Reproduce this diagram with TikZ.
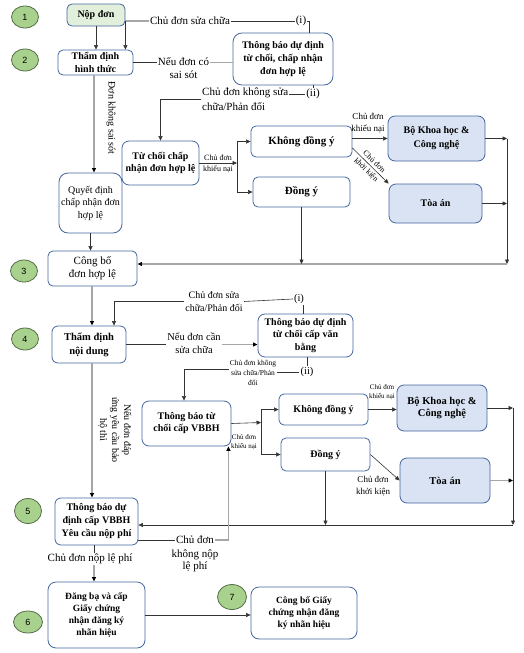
\documentclass[tikz,border=0pt]{standalone}
\usepackage{fontspec}
\setmainfont{Liberation Serif}
\newfontfamily\numfont{Liberation Sans}
\usetikzlibrary{arrows.meta,shapes.geometric}
\definecolor{boxline}{RGB}{68,102,160}
\definecolor{nopfill}{RGB}{226,239,218}
\definecolor{bluefill}{RGB}{218,227,243}
\definecolor{numfill}{RGB}{169,209,142}
\definecolor{numline}{RGB}{84,110,70}
\newcommand{\fs}[2]{\fontsize{#1}{#2}\selectfont}

\begin{document}
\begin{tikzpicture}[x=1pt,y=-1pt,
  box/.style={draw=boxline,line width=0.8pt,rounded corners=5pt,align=center,inner sep=1pt,fill=white},
  bbox/.style={box,fill=bluefill},
  num/.style={ellipse,draw=numline,line width=0.8pt,fill=numfill,inner sep=0pt,minimum width=27pt,minimum height=22pt,font=\numfont\fs{9}{10}},
  lab/.style={align=center,inner sep=1pt},
  conn/.style={draw=black!80,line width=0.6pt},
  arr/.style={conn,-{Triangle[length=4.5pt,width=4pt]}},
  gconn/.style={draw=black!35,line width=1.2pt},
  garr/.style={gconn,-{Triangle[length=4.5pt,width=4pt,color=black]}}
  ]
\useasboundingbox (0,0) rectangle (523,653);

\node[num] (n1) at (25,17) {1};
\node[num] (n2) at (25,60) {2};
\node[num] (n3) at (24,271) {3};
\node[num] (n4) at (25,339) {4};
\node[num,minimum height=25pt] (n5) at (28,511) {5};
\node[num,minimum width=29pt] (n6) at (28,622) {6};
\node[num,minimum width=29pt,minimum height=25pt] (n7) at (232,597) {7};

\node[box,fill=nopfill,minimum width=58pt,minimum height=22pt,font=\fs{10}{13}\bfseries] (nop) at (96,15) {Nộp đơn};
\node[box,minimum width=75pt,minimum height=25pt,font=\fs{10}{13}\bfseries] (tdht) at (95.5,62.5) {Thẩm định\\hình thức};
\node[box,rounded corners=9pt,minimum width=100pt,minimum height=52pt,font=\fs{10}{13}\bfseries] (tbA) at (283,59) {Thông báo dự định\\từ chối, chấp nhận\\đơn hợp lệ};
\node[box,rounded corners=9pt,minimum width=63pt,minimum height=60pt,font=\fs{10}{12.5}] (qd) at (90.5,203) {Quyết định\\chấp nhận đơn\\hợp lệ};
\node[box,rounded corners=7pt,minimum width=77pt,minimum height=44pt,font=\fs{10}{12}\bfseries] (tc) at (160.5,163) {Từ chối chấp\\nhận đơn hợp lệ};
\node[box,minimum width=101pt,minimum height=31pt,font=\fs{11}{13}\bfseries] (kdy1) at (301.5,141.5) {Không đồng ý};
\node[box,minimum width=97pt,minimum height=30pt,font=\fs{11}{13}\bfseries] (dy1) at (301.5,192) {Đồng ý};
\node[bbox,rounded corners=7pt,minimum width=97pt,minimum height=45pt,font=\fs{10}{14}\bfseries] (bo1) at (436.5,138.5) {Bộ Khoa học \&\\Công nghệ};
\node[bbox,rounded corners=7pt,minimum width=93pt,minimum height=39pt,font=\fs{10}{13}\bfseries] (ta1) at (435.5,203.5) {Tòa án};
\node[box,minimum width=89pt,minimum height=35pt,font=\fs{11}{13}] (cb) at (92.5,268.5) {Công bố\\đơn hợp lệ};
\node[box,rounded corners=6pt,minimum width=74pt,minimum height=37pt,font=\fs{10.5}{14}\bfseries] (tdnd) at (89,344.5) {Thẩm định\\nội dung};
\node[box,rounded corners=7pt,minimum width=95pt,minimum height=43pt,font=\fs{10}{12.5}\bfseries] (tbB) at (305.5,335.5) {Thông báo dự định\\từ chối cấp văn\\bằng};
\node[box,rounded corners=7pt,minimum width=89pt,minimum height=45pt,font=\fs{10}{12}\bfseries] (tcB) at (186.5,423.5) {Thông báo từ\\chối cấp VBBH};
\node[box,minimum width=89pt,minimum height=31pt,font=\fs{10}{13}\bfseries] (kdy2) at (323.5,409.5) {Không đồng ý};
\node[box,minimum width=89pt,minimum height=33pt,font=\fs{10}{13}\bfseries] (dy2) at (325.5,454.5) {Đồng ý};
\node[bbox,rounded corners=7pt,minimum width=90pt,minimum height=46pt,font=\fs{10.5}{12}\bfseries] (bo2) at (442,408) {Bộ Khoa học \&\\Công nghệ};
\node[bbox,rounded corners=7pt,minimum width=90pt,minimum height=45pt,font=\fs{10.5}{12}\bfseries] (ta2) at (445,480.5) {Tòa án};
\node[box,rounded corners=6pt,minimum width=83pt,minimum height=47pt,font=\fs{10}{13}\bfseries] (tb5) at (96.5,521.5) {Thông báo dự\\định cấp VBBH\\Yêu cầu nộp phí};
\node[box,rounded corners=8pt,minimum width=97pt,minimum height=66pt,font=\fs{9.5}{12}\bfseries] (db6) at (96.5,615) {Đăng bạ và cấp\\Giấy chứng\\nhận đăng ký\\nhãn hiệu};
\node[box,rounded corners=8pt,minimum width=106pt,minimum height=52pt,font=\fs{9.5}{12}\bfseries] (cb7) at (304,613) {Công bố Giấy\\chứng nhận đăng\\ký nhãn hiệu};

\node[lab,font=\fs{11}{13}] (lsua) at (190,21) {Chủ đơn sửa chữa};
\node[lab,font=\fs{11}{13}] (li) at (301,21) {(i)};
\node[lab,font=\fs{11}{13}] (lsai) at (183.5,68.5) {Nếu đơn có\\sai sót};
\node[lab,font=\fs{10}{13},rotate=-90] (lkss) at (111,118) {Đơn không sai sót};
\node[lab,font=\fs{11}{15},align=left,anchor=west] (lkhong) at (201,99) {Chủ đơn không sửa\\chữa/Phản đối};
\node[lab,font=\fs{11}{13}] (lii) at (313,94) {(ii)};
\node[lab,font=\fs{8}{11}] (lkn1) at (218,164) {Chủ đơn\\khiếu nại};
\node[lab,font=\fs{9}{12}] (lkn1b) at (368,123) {Chủ đơn\\khiếu nại};
\node[lab,font=\fs{8}{11.5},rotate=-44] (lkk1) at (370,166) {Chủ đơn\\khởi kiện};

\node[lab,font=\fs{10}{13}] (lsua2) at (214,301.5) {Chủ đơn sửa\\chữa/Phản đối};
\node[lab,font=\fs{10.5}{13}] (li2) at (299,299) {(i)};
\node[lab,font=\fs{10.5}{13}] (lcan) at (194,343.5) {Nếu đơn cần\\sửa chữa};
\node[lab,font=\fs{7.5}{10}] (lkhong2) at (253,373) {Chủ đơn không\\sửa chữa/Phản\\đối};
\node[lab,font=\fs{10.5}{13}] (lii2) at (307,372) {(ii)};
\node[lab,font=\fs{10}{12},rotate=-90] (lbh) at (115,430) {Nếu đơn đáp\\ứng yêu cầu bảo\\hộ thì};
\node[lab,font=\fs{7}{9}] (lkn2) at (244,442) {Chủ đơn\\khiếu nại};
\node[lab,font=\fs{7}{9}] (lkn2b) at (382,392) {Chủ đơn\\khiếu nại};
\node[lab,font=\fs{9}{12}] (lkk2) at (373,486.5) {Chủ đơn\\khởi kiện};
\node[lab,font=\fs{11}{14}] (knp) at (195,540) {Chủ đơn};
\node[lab,font=\fs{11}{12}] (knp2) at (195,561) {không nộp\\lệ phí};
\node[lab,font=\fs{11}{13}] (lnp) at (90,559) {Chủ đơn nộp lệ phí};

\draw[arr] (nop.south) -- (nop.south |- tdht.north);
\draw[gconn] (lsua.west) -- (lsua.west -| nop.east);
\draw[arr] (lsua.west -| nop.east) -- (tdht.north -| nop.east);
\draw[conn] (lsua.east) -- (li.west);
\coordinate (v0) at ([xshift=26pt]tbA.north);
\draw[conn] (li.east) -| (v0);
\draw[conn] (tdht.east) -- (tdht.east -| lsai.west);
\draw[gconn] (tdht.east -| lsai.east) -- (tdht.east -| tbA.west);
\coordinate (v1) at ([xshift=-1.5pt]tdht.south);
\draw[garr] (v1) -- (v1 |- qd.north);
\draw[arr] (qd.south) -- (qd.south |- cb.north);
\draw[arr] (lkhong.west) -| (tc.north);
\draw[conn] (lii.west) -- (lii.west -| lkhong.east);
\draw[conn] (lii.north) -- (lii.north |- tbA.south);
\coordinate (br1) at (237,163);
\draw[arr] (tc.east) -- (br1);
\draw[arr] (br1) |- (kdy1.west);
\draw[arr] (br1) |- (dy1.west);
\draw[arr] (kdy1.east |- bo1.west) -- (bo1.west);
\coordinate (kk1) at ([yshift=-6.5pt]kdy1.east);
\draw[arr] (kk1) -- (ta1.north west);
\coordinate (r1) at (507,264);
\draw[arr] (bo1.east) -- (bo1.east -| r1);
\draw[arr] (ta1.east) -- (ta1.east -| r1);
\draw[arr] (bo1.east -| r1) -- (r1);
\draw[garr] (r1) -- (r1 -| cb.east);
\draw[arr] (dy1.south) -- (dy1.south |- r1);

\coordinate (v2) at ([xshift=-0.5pt]cb.south);
\draw[garr] (v2) -- (v2 |- tdnd.north);
\coordinate (v3) at ([xshift=25pt]tdnd.north);
\draw[arr] (lsua2.west) -| (v3);
\draw[conn] (lsua2.east) -- (li2.west);
\coordinate (v4) at ([xshift=4pt]li2.south);
\draw[conn] (v4) -- (v4 |- tbB.north);
\draw[conn] (tdnd.east) -- (tdnd.east -| lcan.west);
\draw[garr] (tdnd.east -| lcan.east) -- (tdnd.east -| tbB.west);
\draw[conn] (lii2.north) -- (lii2.north |- tbB.south);
\draw[conn] (lii2.west) -- (lii2.west -| lkhong2.east);
\coordinate (v5) at ([yshift=4pt]lkhong2.west);
\coordinate (v6) at ([xshift=-2.5pt]tcB.north);
\draw[arr] (v5) -| (v6);
\coordinate (v7) at ([xshift=3pt]tdnd.south);
\draw[garr] (v7) -- (v7 |- tb5.north);
\coordinate (br2) at (261,422.5);
\draw[arr] (tcB.east) -- (br2);
\draw[arr] (br2) |- (kdy2.west);
\draw[arr] (br2) |- (dy2.west);
\draw[arr] (kdy2.east) -- (kdy2.east -| bo2.west);
\draw[arr] (dy2.east) -- (ta2.west);
\coordinate (r2) at (513,525);
\draw[arr] (bo2.east) -- (bo2.east -| r2);
\draw[garr] (ta2.east) -- (ta2.east -| r2);
\draw[arr] (bo2.east -| r2) -- (r2);
\draw[arr] (r2) -- (r2 -| tb5.east);
\draw[arr] (dy2.south) -- (dy2.south |- r2);

\draw[conn] (knp.west -| tb5.east) -- (knp.west);
\coordinate (v9) at ([xshift=-3pt]tcB.south east);
\draw[garr] (knp.east) -| (v9);
\coordinate (v10) at ([xshift=-2.5pt]tb5.south);
\draw[conn] (v10) -- (v10 |- lnp.north);
\draw[garr] (v10 |- lnp.south) -- (v10 |- db6.north);
\draw[arr] (db6.east) -- (db6.east -| cb7.west);
\end{tikzpicture}
\end{document}
